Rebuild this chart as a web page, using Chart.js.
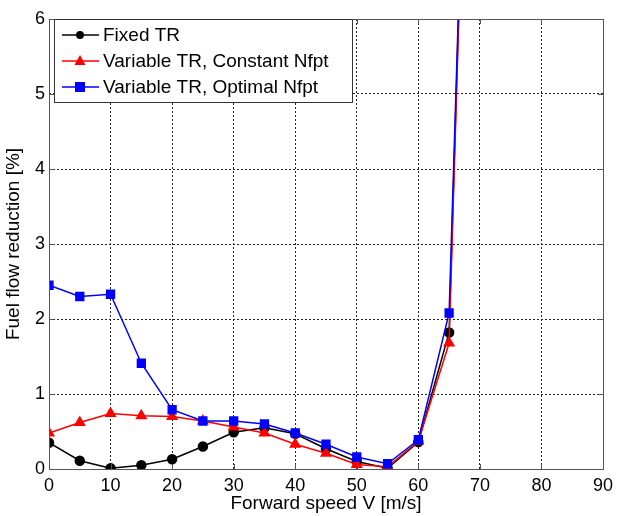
<!DOCTYPE html>
<html>
<head>
<meta charset="utf-8">
<script src="https://cdn.jsdelivr.net/npm/chart.js@4"></script>
<style>
  html, body { margin: 0; padding: 0; background: #fff; }
  #wrap { width: 617px; height: 516px; }
</style>
</head>
<body>
<div id="wrap"><canvas id="chart" width="617" height="516"></canvas></div>
<script>
// forward speed V [m/s]
const speeds = [0, 5, 10, 15, 20, 25, 30, 35, 40, 45, 50, 55, 60, 65, 67];
// fuel flow reduction [%]
const fixedTR = [0.35, 0.11, 0.01, 0.05, 0.13, 0.30, 0.49, 0.55, 0.47, 0.27, 0.10, 0.01, 0.36, 1.82, 7.3];
const varConst = [0.48, 0.62, 0.74, 0.71, 0.70, 0.64, 0.56, 0.48, 0.33, 0.21, 0.06, 0.03, 0.37, 1.68, 7.2];
const varOpt = [2.45, 2.30, 2.33, 1.41, 0.79, 0.64, 0.64, 0.60, 0.48, 0.33, 0.16, 0.07, 0.39, 2.08, 7.4];
const xTicks = [0, 10, 20, 30, 40, 50, 60, 70, 80, 90];
const yTicks = [0, 1, 2, 3, 4, 5, 6];
const seriesNames = ['Fixed TR', 'Variable TR, Constant Nfpt', 'Variable TR, Optimal Nfpt'];

const FONT = 'Liberation Sans, Arial, sans-serif';

function toPoints(vals) {
    return speeds.map((s, i) => ({ x: s, y: vals[i] }));
}

// plot box, inward ticks and the line+marker legend
const framePlugin = {
    id: 'frame',
    afterDraw(chart) {
        const { ctx, chartArea: a, scales } = chart;
        ctx.save();
        ctx.strokeStyle = '#555';
        ctx.lineWidth = 1;
        ctx.setLineDash([]);
        xTicks.forEach(v => {
            const px = Math.round(scales.x.getPixelForValue(v)) + 0.5;
            ctx.beginPath();
            ctx.moveTo(px, a.bottom); ctx.lineTo(px, a.bottom - 5);
            ctx.moveTo(px, a.top); ctx.lineTo(px, a.top + 5);
            ctx.stroke();
        });
        yTicks.forEach(v => {
            const py = Math.round(scales.y.getPixelForValue(v)) + 0.5;
            ctx.beginPath();
            ctx.moveTo(a.left, py); ctx.lineTo(a.left + 5, py);
            ctx.moveTo(a.right, py); ctx.lineTo(a.right - 5, py);
            ctx.stroke();
        });
        ctx.strokeRect(Math.round(a.left) + 0.5, Math.round(a.top) + 0.5,
            Math.round(a.right - a.left), Math.round(a.bottom - a.top));

        // legend
        const lx = a.left + 5, ly = a.top, lw = 298, lh = 83;
        ctx.fillStyle = '#fff';
        ctx.fillRect(lx, ly, lw, lh);
        ctx.strokeStyle = '#333';
        ctx.strokeRect(lx + 0.5, ly + 0.5, lw, lh);
        ctx.font = '19px ' + FONT;
        ctx.textBaseline = 'middle';
        chart.data.datasets.forEach((ds, i) => {
            const ry = ly + 16 + i * 26;
            ctx.strokeStyle = ds.borderColor;
            ctx.lineWidth = 1.5;
            ctx.beginPath();
            ctx.moveTo(lx + 8, ry); ctx.lineTo(lx + 45, ry);
            ctx.stroke();
            ctx.fillStyle = ds.borderColor;
            const cx = lx + 26;
            ctx.beginPath();
            if (ds.pointStyle === 'circle') {
                ctx.arc(cx, ry, 4, 0, Math.PI * 2);
            } else if (ds.pointStyle === 'triangle') {
                ctx.moveTo(cx, ry - 6); ctx.lineTo(cx + 5.5, ry + 4); ctx.lineTo(cx - 5.5, ry + 4);
                ctx.closePath();
            } else {
                ctx.rect(cx - 5, ry - 5, 10, 10);
            }
            ctx.fill();
            ctx.fillStyle = '#000';
            ctx.fillText(ds.label, lx + 49, ry + 1);
        });
        ctx.restore();
    }
};

const ctx = document.getElementById('chart').getContext('2d');
const chart = new Chart(ctx, {
    type: 'line',
    data: {
        datasets: [
            {
                label: seriesNames[0],
                data: toPoints(fixedTR),
                borderColor: '#000000',
                backgroundColor: '#000000',
                pointStyle: 'circle',
                pointRadius: 4.5,
                borderWidth: 1.5,
                order: 3
            },
            {
                label: seriesNames[1],
                data: toPoints(varConst),
                borderColor: '#ff0000',
                backgroundColor: '#ff0000',
                pointStyle: 'triangle',
                pointRadius: 5.5,
                borderWidth: 1.5,
                order: 2
            },
            {
                label: seriesNames[2],
                data: toPoints(varOpt),
                borderColor: '#0000ff',
                backgroundColor: '#0000ff',
                pointStyle: 'rect',
                pointRadius: 5.5,
                borderWidth: 1.5,
                order: 1
            }
        ]
    },
    options: {
        responsive: false,
        animation: false,
        devicePixelRatio: 1,
        clip: true,
        layout: { padding: { top: 19, right: 14, left: 0, bottom: 0 } },
        plugins: {
            legend: { display: false },
            tooltip: { enabled: false }
        },
        scales: {
            x: {
                type: 'linear',
                min: 0, max: 90,
                afterBuildTicks: s => { s.ticks = xTicks.map(v => ({ value: v })); },
                afterFit: s => { s.height = 47; s.paddingRight = 0; s.paddingLeft = 0; },
                ticks: { color: '#000', font: { family: FONT, size: 18 }, padding: 6, maxRotation: 0 },
                grid: { color: '#222', lineWidth: 1, drawTicks: false },
                border: { display: false, dash: [2, 2] },
                title: {
                    display: true, text: 'Forward speed V [m/s]', color: '#000',
                    font: { family: FONT, size: 19 }, padding: { top: 0, bottom: 1 }
                }
            },
            y: {
                type: 'linear',
                min: 0, max: 6,
                afterBuildTicks: s => { s.ticks = yTicks.map(v => ({ value: v })); },
                afterFit: s => { s.width = 49; },
                ticks: { color: '#000', font: { family: FONT, size: 18 }, padding: 4 },
                grid: { color: '#222', lineWidth: 1, drawTicks: false },
                border: { display: false, dash: [2, 2] },
                title: {
                    display: true, text: 'Fuel flow reduction [%]', color: '#000',
                    font: { family: FONT, size: 19 }, padding: { top: 2, bottom: 0 }
                }
            }
        }
    },
    plugins: [framePlugin]
});
</script>
</body>
</html>
